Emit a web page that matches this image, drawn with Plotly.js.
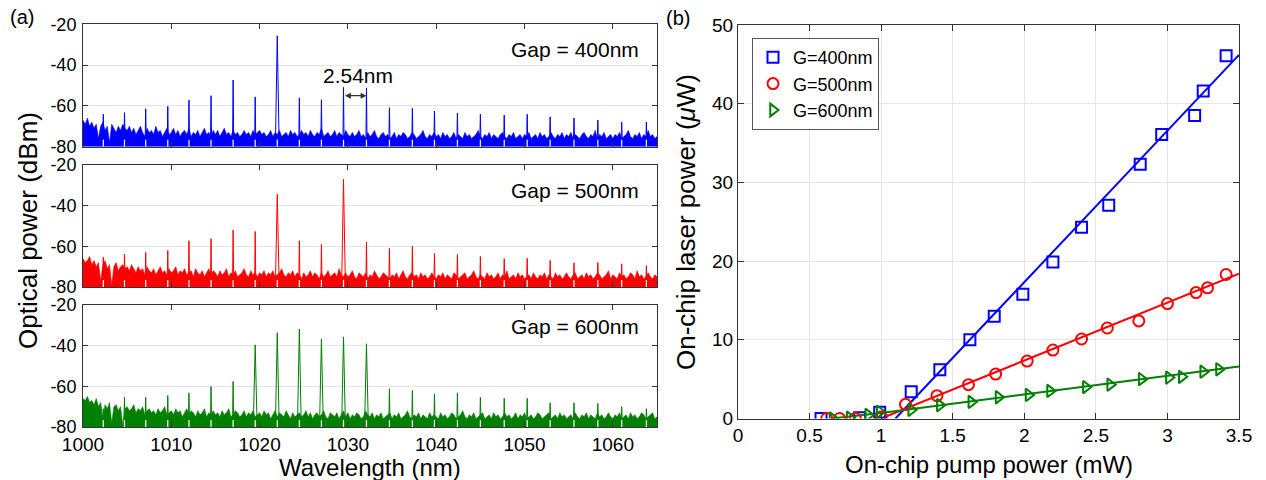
<!DOCTYPE html>
<html><head><meta charset="utf-8">
<script src="https://cdn.plot.ly/plotly-3.0.1.min.js"></script>
<style>html,body{margin:0;padding:0;background:#fff}#chart{width:1266px;height:480px}</style>
</head><body><div id="chart"></div>
<script>
// ---------- data (a): comb spectra ----------
const modeWavelengths = [1002.3,1004.7,1007.1,1009.6,1012.0,1014.5,1017.0,1019.5,1022.0,1024.5,1027.0,1029.5,1032.1,1034.7,1037.3,1039.8,1042.4,1045.0,1047.7,1050.3,1052.9,1055.6,1058.3,1061.0,1063.8];
const peaks400 = [-64.1,-63.3,-61.4,-60.2,-57.1,-55.0,-47.3,-55.6,-25.6,-56.1,-57.0,-50.9,-51.2,-60.9,-61.2,-62.5,-63.5,-64.0,-64.5,-64.1,-65.4,-65.9,-66.9,-67.9,-67.9];
const peaks500 = [-65.3,-63.8,-63.0,-62.0,-57.3,-56.3,-52.0,-52.7,-34.4,-57.3,-59.1,-27.0,-57.9,-61.0,-59.9,-63.5,-64.0,-65.0,-66.1,-65.9,-66.9,-68.1,-67.9,-68.6,-69.5];
const peaks600 = [-71.0,-65.4,-65.4,-64.5,-63.2,-60.1,-57.6,-39.6,-33.6,-31.8,-36.7,-35.7,-39.1,-61.2,-62.0,-63.7,-63.2,-65.4,-65.9,-65.9,-68.1,-68.1,-68.4,-70.0,-71.0];
// noise-floor envelope, sampled every 0.25 nm from 1000 nm
const noiseStartNm = 1000, noiseStepNm = 0.25;
const noise400 = [
-67,-69,-66,-70,-68,-71,-69,-76,-70,-68,-72,-70,-78,-69,-71,-73,-70,-72,-69,-71,
-72,-70,-73,-71,-74,-72,-70,-73,-75,-71,-73,-72,-74,-70,-73,-72,-75,-73,-71,-74,
-73,-71,-74,-72,-75,-73,-72,-74,-71,-75,-73,-74,-72,-75,-73,-71,-74,-73,-75,-72,
-74,-72,-75,-73,-71,-74,-73,-75,-72,-74,-73,-75,-74,-72,-74,-73,-75,-72,-74,-73,
-72,-74,-73,-75,-74,-72,-75,-73,-74,-72,-75,-74,-73,-75,-72,-74,-73,-75,-74,-72,
-74,-73,-75,-72,-74,-75,-73,-74,-71,-75,-74,-73,-75,-74,-72,-75,-73,-74,-75,-72,
-74,-75,-73,-75,-74,-72,-75,-74,-76,-73,-75,-74,-72,-75,-76,-74,-73,-75,-74,-76,
-75,-73,-76,-74,-75,-73,-74,-76,-75,-73,-74,-76,-75,-74,-72,-75,-76,-74,-75,-73,
-75,-74,-76,-73,-75,-74,-76,-75,-73,-76,-74,-75,-76,-73,-75,-74,-76,-75,-74,-72,
-75,-76,-74,-75,-73,-76,-74,-75,-76,-74,-73,-75,-76,-74,-75,-73,-76,-75,-74,-76,
-74,-75,-73,-76,-75,-74,-76,-73,-75,-74,-76,-75,-73,-75,-76,-74,-75,-73,-76,-74,
-75,-73,-76,-74,-75,-76,-74,-73,-75,-76,-74,-75,-72,-76,-74,-75,-73,-76,-75,-74,
-76,-74,-75,-73,-76,-75,-74,-72,-75,-76,-74,-75,-73,-76,-74,-75,-72,-75,-74,-76,
-75];
const noise500 = [
-66,-68,-67,-65,-69,-67,-70,-68,-77,-69,-67,-71,-69,-79,-70,-68,-72,-70,-69,-71,
-70,-72,-69,-71,-73,-70,-72,-71,-74,-70,-72,-73,-71,-74,-72,-70,-73,-72,-74,-71,
-73,-72,-70,-74,-72,-73,-71,-74,-73,-72,-75,-71,-73,-74,-72,-75,-73,-71,-74,-72,
-73,-75,-72,-74,-73,-71,-75,-73,-74,-72,-75,-74,-73,-71,-74,-75,-72,-74,-73,-75,
-73,-74,-72,-75,-73,-74,-72,-75,-74,-73,-71,-74,-75,-73,-74,-72,-75,-73,-74,-76,
-73,-75,-74,-72,-75,-73,-74,-76,-73,-75,-74,-72,-75,-74,-73,-75,-71,-74,-75,-73,
-75,-74,-72,-75,-76,-73,-74,-75,-73,-76,-74,-75,-72,-74,-76,-75,-73,-74,-75,-76,
-74,-75,-73,-76,-74,-72,-75,-76,-74,-73,-75,-74,-76,-73,-75,-74,-76,-75,-73,-75,
-76,-74,-75,-73,-76,-74,-75,-76,-73,-74,-76,-75,-74,-73,-76,-75,-74,-72,-75,-76,
-74,-75,-76,-73,-75,-74,-76,-75,-73,-76,-74,-75,-72,-76,-75,-74,-76,-73,-75,-74,
-76,-75,-74,-76,-73,-75,-76,-74,-75,-73,-76,-74,-75,-76,-73,-75,-74,-76,-75,-73,
-75,-76,-74,-73,-76,-75,-74,-76,-73,-75,-74,-76,-75,-73,-74,-76,-75,-74,-72,-76,
-74,-75,-76,-73,-75,-74,-76,-75,-73,-74,-76,-72,-75,-74,-76,-75,-73,-75,-76,-74,
-75];
const noise600 = [
-66,-67,-65,-68,-67,-69,-66,-70,-68,-76,-69,-71,-68,-78,-70,-69,-72,-70,-79,-71,
-70,-72,-71,-69,-73,-71,-72,-70,-74,-72,-71,-73,-72,-74,-71,-73,-72,-70,-74,-73,
-72,-74,-71,-73,-72,-75,-73,-71,-74,-72,-73,-75,-72,-74,-73,-71,-75,-73,-74,-72,
-74,-73,-75,-72,-74,-73,-71,-75,-74,-72,-73,-75,-74,-72,-75,-73,-74,-72,-75,-74,
-73,-75,-72,-74,-73,-76,-74,-72,-75,-73,-74,-75,-72,-74,-76,-73,-75,-74,-73,-75,
-74,-72,-75,-73,-76,-74,-73,-75,-74,-72,-75,-76,-73,-74,-75,-73,-76,-74,-72,-75,
-73,-76,-74,-75,-73,-74,-76,-75,-72,-74,-75,-73,-76,-74,-75,-73,-76,-75,-74,-73,
-76,-74,-75,-73,-76,-75,-74,-72,-75,-76,-74,-75,-73,-76,-74,-75,-76,-73,-75,-74,
-75,-76,-73,-75,-74,-76,-75,-73,-74,-76,-75,-74,-72,-75,-76,-74,-75,-73,-76,-75,
-74,-73,-76,-75,-74,-76,-73,-75,-74,-76,-75,-73,-75,-74,-76,-75,-73,-76,-74,-75,
-73,-76,-75,-74,-76,-75,-73,-74,-76,-75,-74,-73,-76,-75,-74,-76,-73,-75,-74,-76,
-75,-74,-76,-73,-75,-76,-74,-75,-73,-76,-74,-75,-76,-73,-75,-74,-76,-75,-73,-75,
-76,-74,-75,-73,-76,-75,-74,-76,-73,-75,-74,-76,-75,-73,-74,-76,-75,-74,-73,-76,
-75];
const spectrumTickVals = [1000,1010,1020,1030,1040,1050,1060];
const dbmTickVals = [-80,-60,-40,-20];
const dbmTickText = ['-80','-60','-40','-20'];
const gapLabels = ['Gap = 400nm','Gap = 500nm','Gap = 600nm'];
const fsrLabel = '2.54nm';
const fsrFrom = 1029.5, fsrTo = 1032.1;

// ---------- data (b): laser power vs pump ----------
const seriesNames = ['G=400nm','G=500nm','G=600nm'];
const pump400 = [0.58,0.85,0.99,1.21,1.41,1.62,1.79,1.99,2.20,2.40,2.59,2.81,2.96,3.19,3.25,3.41];
const laser400 = [0.0,0.1,0.8,3.4,6.2,10.0,13.0,15.8,19.9,24.3,27.1,32.3,36.1,38.5,41.6,46.1];
const pump500 = [0.62,0.71,0.82,1.00,1.17,1.39,1.61,1.80,2.02,2.20,2.40,2.58,2.80,3.00,3.20,3.28,3.41];
const laser500 = [0.0,0.0,0.0,0.2,1.8,2.9,4.3,5.65,7.3,8.7,10.1,11.5,12.4,14.6,16.0,16.6,18.3];
const pump600 = [0.66,0.78,0.91,0.99,1.21,1.41,1.63,1.82,2.03,2.18,2.43,2.60,2.82,3.01,3.10,3.25,3.36];
const laser600 = [0.0,0.1,0.45,0.85,1.1,1.7,2.1,2.7,3.0,3.5,4.0,4.3,5.0,5.2,5.3,5.95,6.25];
const fitPump400 = [1.1,3.5],  fitLaser400 = [0,46.2];
const fitPump500 = [1.0,3.5],  fitLaser500 = [0,18.4];
const fitPump600 = [0.65,1.0,3.5], fitLaser600 = [0,0.7,6.6];
const pumpTickVals = [0,0.5,1,1.5,2,2.5,3,3.5];
const laserTickVals = [0,10,20,30,40,50];

// ---------- styling / layout ----------
const W = 1266, H = 480;
const FONT = 'Liberation Sans, Arial, Helvetica, sans-serif';
const COLORS = ['#0000ff','#ff0000','#008000'];
const AX = '#333333', GRID = '#e6e6e6';
const px = p => p / W, py = p => 1 - p / H;
const leftDom = [px(83), px(657)];
const rowDoms = [[py(146.7), py(24.3)], [py(287), py(165)], [py(427), py(305)]];
const rightDom = [px(738), px(1239)];
const rightYDom = [py(418.5), py(25)];
const FLOOR_TOP = -76.5;   // where the peak spikes start (above the white notch)

const traces = [];
const spectra = [noise400, noise500, noise600];
const peakSets = [peaks400, peaks500, peaks600];
spectra.forEach((noise, k) => {
  const xa = k === 0 ? 'x' : 'x' + (k + 1), ya = k === 0 ? 'y' : 'y' + (k + 1);
  const nx = noise.map((_, i) => noiseStartNm + i * noiseStepNm);
  traces.push({x: [1000, 1065], y: [-80, -80], xaxis: xa, yaxis: ya, mode: 'lines',
    line: {width: 0, color: COLORS[k]}, showlegend: false, hoverinfo: 'skip'});
  traces.push({x: nx, y: noise, xaxis: xa, yaxis: ya, mode: 'lines', fill: 'tonexty',
    fillcolor: COLORS[k], line: {width: 0.6, color: COLORS[k]}, showlegend: false, hoverinfo: 'skip'});
  // white notch under each comb line (as in the measured trace)
  const gx = [], gy = [];
  modeWavelengths.forEach(w => { gx.push(w, w, null); gy.push(-80, FLOOR_TOP, null); });
  traces.push({x: gx, y: gy, xaxis: xa, yaxis: ya, mode: 'lines',
    line: {width: 1.2, color: '#ffffff'}, showlegend: false, hoverinfo: 'skip'});
  const pxs = [], pys = [];
  peakSets[k].forEach((h, i) => {
    const w = modeWavelengths[i], hw = h > -45 ? 0.2 : 0.06;
    pxs.push(w - hw, w, w + hw, null); pys.push(FLOOR_TOP, h, FLOOR_TOP, null);
  });
  traces.push({x: pxs, y: pys, xaxis: xa, yaxis: ya, mode: 'lines',
    line: {width: 1, color: COLORS[k]}, showlegend: false, hoverinfo: 'skip'});
});

const pumps = [pump400, pump500, pump600], lasers = [laser400, laser500, laser600];
const fitX = [fitPump400, fitPump500, fitPump600], fitY = [fitLaser400, fitLaser500, fitLaser600];
const symbols = ['square-open', 'circle-open', 'triangle-right-open'];
[0, 1, 2].forEach(k => {
  traces.push({x: fitX[k], y: fitY[k], xaxis: 'x4', yaxis: 'y4', mode: 'lines',
    line: {width: 2, color: COLORS[k]}, showlegend: false, hoverinfo: 'skip'});
});
[0, 1, 2].forEach(k => {
  traces.push({x: pumps[k], y: lasers[k], xaxis: 'x4', yaxis: 'y4', mode: 'markers', name: seriesNames[k],
    marker: {symbol: symbols[k], size: 11, color: COLORS[k], line: {width: 2, color: COLORS[k]}}});
});

const baseAxis = {showline: true, linecolor: AX, linewidth: 1, mirror: 'ticks', ticks: 'inside',
  ticklen: 5, tickcolor: AX, tickwidth: 1, zeroline: false, tickfont: {family: FONT, size: 19, color: '#000'}};
const layout = {
  width: W, height: H, margin: {l: 0, r: 0, t: 0, b: 0}, paper_bgcolor: '#fff', plot_bgcolor: '#fff',
  font: {family: FONT, color: '#000'},
  showlegend: true,
  legend: {x: px(752), y: py(38), xanchor: 'left', yanchor: 'top', bgcolor: '#fff', traceorder: 'normal',
    bordercolor: '#555', borderwidth: 1, font: {family: FONT, size: 18, color: '#000'}},
  annotations: [], shapes: []
};
[0, 1, 2].forEach(k => {
  const xk = k === 0 ? 'xaxis' : 'xaxis' + (k + 1), yk = k === 0 ? 'yaxis' : 'yaxis' + (k + 1);
  layout[xk] = Object.assign({}, baseAxis, {domain: leftDom, range: [1000, 1065], tickvals: spectrumTickVals,
    showgrid: false, showticklabels: k === 2, anchor: k === 0 ? 'y' : 'y' + (k + 1)});
  layout[yk] = Object.assign({}, baseAxis, {domain: rowDoms[k], range: [-80, -20], tickvals: dbmTickVals,
    ticktext: dbmTickText, showgrid: true, gridcolor: GRID, anchor: k === 0 ? 'x' : 'x' + (k + 1),
    tickfont: {family: FONT, size: 18, color: '#000'}, ticklabelstandoff: 2});
  const xr = k === 0 ? 'x' : 'x' + (k + 1), yr = k === 0 ? 'y' : 'y' + (k + 1);
  layout.annotations.push({xref: xr, yref: yr, x: 1055.7, y: [-32.5, -32.3, -30.7][k], text: gapLabels[k],
    xanchor: 'center', yanchor: 'middle', showarrow: false, font: {family: FONT, size: 21, color: '#000'}});
});
layout.annotations.push({xref: 'x', yref: 'y', axref: 'x', ayref: 'y', x: fsrTo, y: -55, ax: fsrFrom, ay: -55,
  text: '', showarrow: true, arrowhead: 2, arrowside: 'end+start', arrowsize: 0.9, arrowwidth: 1.3, arrowcolor: AX, standoff: 0, startstandoff: 0});
layout.annotations.push({xref: 'x', yref: 'y', x: (fsrFrom + fsrTo) / 2 + 0.3, y: -45.3, text: fsrLabel,
  xanchor: 'center', yanchor: 'middle', showarrow: false, font: {family: FONT, size: 21, color: '#000'}});
layout.xaxis4 = Object.assign({}, baseAxis, {domain: rightDom, range: [0, 3.5], tickvals: pumpTickVals,
  showgrid: true, gridcolor: GRID, anchor: 'y4', ticklen: 6});
layout.yaxis4 = Object.assign({}, baseAxis, {domain: rightYDom, range: [0, 50], tickvals: laserTickVals,
  showgrid: true, gridcolor: GRID, anchor: 'x4', ticklen: 6});
const titleFont = {family: FONT, size: 24, color: '#000'};
const mid = {xanchor: 'center', yanchor: 'middle', showarrow: false, xref: 'paper', yref: 'paper'};
layout.annotations.push(
  Object.assign({x: px(28), y: py(231), text: 'Optical power (dBm)', textangle: -90, font: {family: FONT, size: 26, color: '#000'}}, mid),
  Object.assign({x: px(370), y: py(467), text: 'Wavelength (nm)', font: titleFont}, mid),
  Object.assign({x: px(686), y: py(222), text: 'On-chip laser power (<i>μ</i>W)', textangle: -90, font: {family: FONT, size: 26, color: '#000'}}, mid),
  Object.assign({x: px(988.5), y: py(464), text: 'On-chip pump power (mW)', font: titleFont}, mid),
  Object.assign({x: px(22), y: py(17), text: '(a)', font: {family: FONT, size: 20, color: '#000'}}, mid),
  Object.assign({x: px(678), y: py(18), text: '(b)', font: {family: FONT, size: 20, color: '#000'}}, mid)
);
Plotly.newPlot('chart', traces, layout, {staticPlot: true, displayModeBar: false});
</script></body></html>
